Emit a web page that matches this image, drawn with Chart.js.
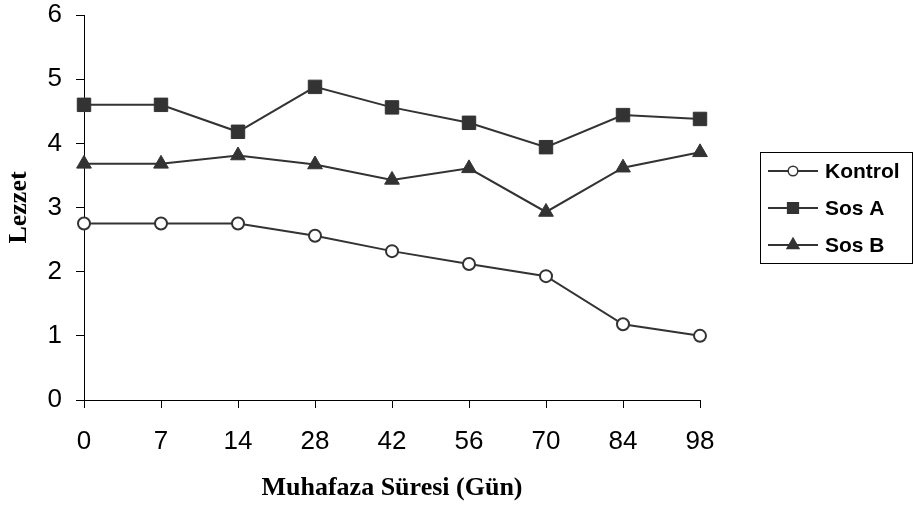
<!DOCTYPE html>
<html>
<head>
<meta charset="utf-8">
<script src="https://cdn.jsdelivr.net/npm/chart.js@4/dist/chart.umd.min.js"></script>
<style>
  html, body { margin: 0; padding: 0; background: #fff; }
  #wrap { width: 913px; height: 506px; }
</style>
</head>
<body>
<div id="wrap"><canvas id="lezzetChart" width="913" height="506"></canvas></div>
<script>
// Lezzet - Muhafaza Süresi

var dayLabels = ['0', '7', '14', '28', '42', '56', '70', '84', '98'];
var kontrolValues = [2.75, 2.75, 2.75, 2.56, 2.32, 2.12, 1.93, 1.18, 1.00];
var sosAValues = [4.60, 4.60, 4.18, 4.88, 4.56, 4.32, 3.94, 4.44, 4.38];
var sosBValues = [3.68, 3.68, 3.81, 3.67, 3.43, 3.61, 2.93, 3.62, 3.86];
var seriesNames = ['Kontrol', 'Sos A', 'Sos B'];

var lineColor = '#333333';

// legend drawn in a box at the right, like the original
var boxLegend = {
	id: 'boxLegend',
	afterDraw: function(chart) {
		var ctx = chart.ctx;
		ctx.save();
		ctx.strokeStyle = '#000';
		ctx.lineWidth = 1;
		ctx.strokeRect(760.5, 152.5, 152, 111);
		var rowsY = [171, 208, 245];
		chart.data.datasets.forEach(function(ds, i) {
			var y = rowsY[i];
			ctx.strokeStyle = lineColor;
			ctx.lineWidth = 2;
			ctx.beginPath();
			ctx.moveTo(768, y);
			ctx.lineTo(818, y);
			ctx.stroke();
			ctx.fillStyle = ds.pointBackgroundColor;
			ctx.strokeStyle = lineColor;
			ctx.lineWidth = 1.5;
			Chart.helpers.drawPoint(ctx, {
				pointStyle: ds.pointStyle,
				radius: ds.pointRadius * 0.8,
				rotation: 0,
				borderWidth: 1.5
			}, 793, y);
			ctx.fillStyle = '#000';
			ctx.font = 'bold 21px "Liberation Sans", Arial, sans-serif';
			ctx.textBaseline = 'middle';
			ctx.textAlign = 'left';
			ctx.fillText(ds.label, 825, y + 1);
		});
		ctx.restore();
	}
};

window.addEventListener('load', function() {
	var ctx = document.getElementById('lezzetChart').getContext('2d');
	new Chart(ctx, {
		type: 'line',
		data: {
			labels: dayLabels,
			datasets: [
				{
					label: seriesNames[0],
					data: kontrolValues,
					borderColor: lineColor,
					borderWidth: 2,
					pointStyle: 'circle',
					pointRadius: 6,
					pointBorderWidth: 2,
					pointBackgroundColor: '#fff',
					pointBorderColor: lineColor
				},
				{
					label: seriesNames[1],
					data: sosAValues,
					borderColor: lineColor,
					borderWidth: 2,
					pointStyle: 'rect',
					pointRadius: 9.5,
					pointBorderWidth: 1,
					pointBackgroundColor: lineColor,
					pointBorderColor: lineColor
				},
				{
					label: seriesNames[2],
					data: sosBValues,
					borderColor: lineColor,
					borderWidth: 2,
					pointStyle: 'triangle',
					pointRadius: 8.5,
					pointBorderWidth: 1,
					pointBackgroundColor: lineColor,
					pointBorderColor: lineColor
				}
			]
		},
		options: {
			responsive: false,
			maintainAspectRatio: false,
			animation: false,
			layout: {
				padding: { top: 15, right: 213, left: 0, bottom: 0 }
			},
			plugins: {
				legend: { display: false },
				tooltip: { enabled: false }
			},
			scales: {
				x: {
					type: 'category',
					offset: false,
					afterFit: function(s) { s.height = 106; },
					grid: {
						drawOnChartArea: false,
						drawTicks: true,
						tickLength: 8,
						color: '#000'
					},
					border: { color: '#000', width: 1 },
					ticks: {
						color: '#000',
						padding: 18,
						maxRotation: 0,
						font: { family: '"Liberation Sans", Arial, sans-serif', size: 26 }
					},
					title: {
						display: true,
						text: 'Muhafaza Süresi (Gün)',
						color: '#000',
						padding: { top: 0, bottom: 2 },
						font: { family: '"Liberation Serif", "Times New Roman", serif', size: 26, weight: 'bold' }
					}
				},
				y: {
					min: 0,
					max: 6,
					afterFit: function(s) {
						s.width = 84;
						s.paddingTop = 0;
						s.paddingBottom = 0;
					},
					grid: {
						drawOnChartArea: false,
						drawTicks: true,
						tickLength: 8,
						color: '#000'
					},
					border: { color: '#000', width: 1 },
					ticks: {
						stepSize: 1,
						color: '#000',
						padding: 14,
						font: { family: '"Liberation Sans", Arial, sans-serif', size: 26 }
					},
					title: {
						display: true,
						text: 'Lezzet',
						color: '#000',
						padding: { top: 4, bottom: 0 },
						font: { family: '"Liberation Serif", "Times New Roman", serif', size: 26, weight: 'bold' }
					}
				}
			}
		},
		plugins: [boxLegend]
	});
});
</script>
</body>
</html>
